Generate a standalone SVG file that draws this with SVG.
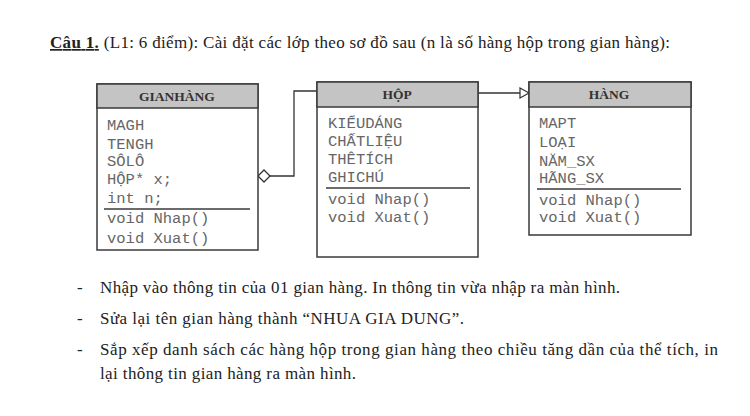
<svg xmlns="http://www.w3.org/2000/svg" width="750" height="416" viewBox="0 0 750 416">
<defs>
<style>
.box{fill:#fff;stroke:#3a3a3a;stroke-width:1.5}
.hdr{fill:#c4c4c4;stroke:#3a3a3a;stroke-width:1.5}
.sep{stroke:#3a3a3a;stroke-width:1.3}
.ht{font-family:"Liberation Serif",serif;font-weight:bold;font-size:13.5px;fill:#333;text-anchor:middle}
.m{font-family:"Liberation Mono",monospace;font-size:15.5px;fill:#666}
.t{font-family:"Liberation Serif",serif;font-size:17px;fill:#222}
.conn{fill:none;stroke:#333;stroke-width:1.3}
</style>
<marker id="tri" markerWidth="12" markerHeight="12" refX="10" refY="6" orient="auto" markerUnits="userSpaceOnUse">
<path d="M1,1 L10,6 L1,11 Z" fill="#fff" stroke="#333" stroke-width="1.2"/>
</marker>
</defs>
<rect width="750" height="416" fill="#fff"/>
<g id="title">
<text class="t" x="50" y="48" textLength="620" lengthAdjust="spacing"><tspan font-weight="bold" text-decoration="underline">Câu 1.</tspan> (L1: 6 điểm): Cài đặt các lớp theo sơ đồ sau (n là số hàng hộp trong gian hàng):</text>
</g>
<g id="connectors">
<path class="conn" d="M270,176 L294,176 L294,91 L317,91"/>
<path d="M258,176 L264,170 L270,176 L264,182 Z" fill="#fff" stroke="#333" stroke-width="1.3"/>
<path class="conn" d="M478,93 L529,93" marker-end="url(#tri)"/>
</g>
<g id="gianhang">
<rect class="box" x="97" y="84" width="161" height="166"/>
<rect class="hdr" x="97" y="84" width="161" height="24"/>
<text class="ht" x="177" y="101">GIANHÀNG</text>
<text class="m" x="107" y="130">MAGH</text>
<text class="m" x="107" y="149">TENGH</text>
<text class="m" x="107" y="166">SÔLÔ</text>
<text class="m" x="107" y="184">HỘP* x;</text>
<text class="m" x="107" y="203">int n;</text>
<line class="sep" x1="104" y1="209" x2="250" y2="209"/>
<text class="m" x="107" y="223">void Nhap()</text>
<text class="m" x="107" y="243">void Xuat()</text>
</g>
<g id="hop">
<rect class="box" x="317" y="82" width="161" height="175"/>
<rect class="hdr" x="317" y="82" width="161" height="25"/>
<text class="ht" x="397" y="99">HỘP</text>
<text class="m" x="328" y="128">KIỂUDÁNG</text>
<text class="m" x="328" y="146">CHẤTLIỆU</text>
<text class="m" x="328" y="164">THÊTÍCH</text>
<text class="m" x="328" y="182">GHICHÚ</text>
<line class="sep" x1="326" y1="188" x2="470" y2="188"/>
<text class="m" x="328" y="204">void Nhap()</text>
<text class="m" x="328" y="222">void Xuat()</text>
</g>
<g id="hang">
<rect class="box" x="529" y="82" width="162" height="153"/>
<rect class="hdr" x="529" y="82" width="162" height="25"/>
<text class="ht" x="609" y="99">HÀNG</text>
<text class="m" x="539" y="128">MAPT</text>
<text class="m" x="539" y="147">LOẠI</text>
<text class="m" x="539" y="166">NĂM_SX</text>
<text class="m" x="539" y="183">HÃNG_SX</text>
<line class="sep" x1="537" y1="189" x2="681" y2="189"/>
<text class="m" x="539" y="205">void Nhap()</text>
<text class="m" x="539" y="222">void Xuat()</text>
</g>
<g id="bullets">
<text class="t" x="77" y="293">-</text>
<text class="t" x="100" y="293" textLength="520" lengthAdjust="spacing">Nhập vào thông tin của 01 gian hàng. In thông tin vừa nhập ra màn hình.</text>
<text class="t" x="77" y="324">-</text>
<text class="t" x="100" y="324" textLength="364" lengthAdjust="spacing">Sửa lại tên gian hàng thành “NHUA GIA DUNG”.</text>
<text class="t" x="77" y="355">-</text>
<text class="t" x="100" y="355" textLength="618" lengthAdjust="spacing">Sắp xếp danh sách các hàng hộp trong gian hàng theo chiều tăng dần của thể tích, in</text>
<text class="t" x="100" y="379" textLength="256" lengthAdjust="spacing">lại thông tin gian hàng ra màn hình.</text>
</g>
</svg>
